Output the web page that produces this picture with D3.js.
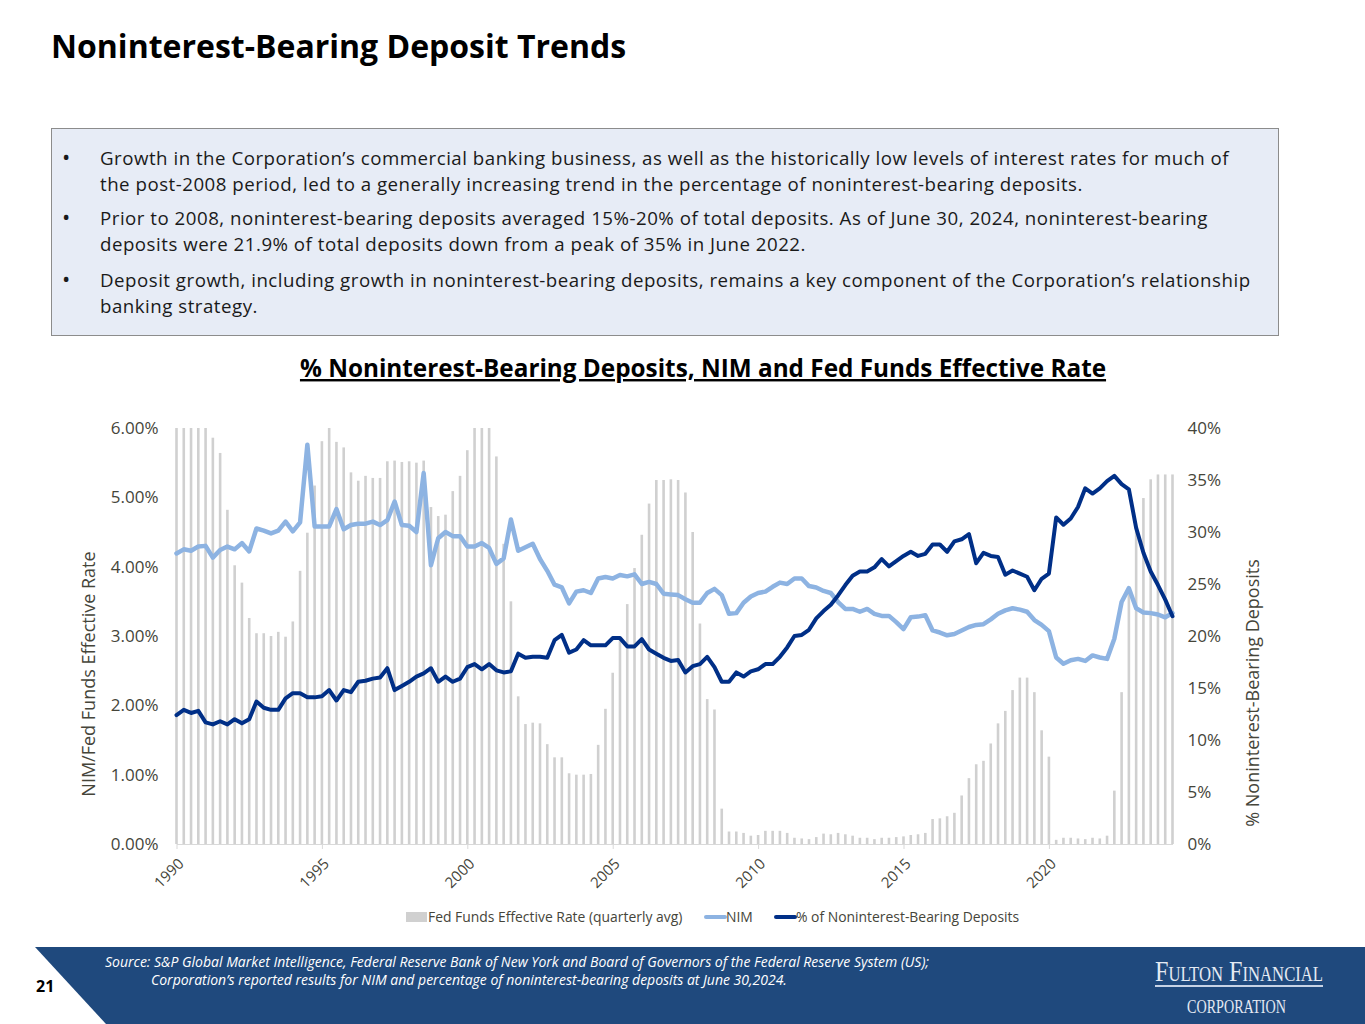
<!DOCTYPE html>
<html lang="en">
<head>
<meta charset="UTF-8">
<script src="https://d3js.org/d3.v7.min.js"></script>
<title>Noninterest-Bearing Deposit Trends</title>
<style>
    body{
        margin: 0;
        background-color: white;
        font-family: "Open Sans", sans-serif;
    }
    svg{
        display: block;
    }
    .axis text{
        font-family: "Open Sans", sans-serif;
        font-size: 17px;
        fill: #45453a;
    }
    .axis.x-axis text{
        font-size: 15px;
    }
    .axis-title{
        font-size: 18px;
        fill: #45453a;
    }
    .legend text{
        font-size: 13.9px;
        fill: #45453a;
    }
    .bullet{
        font-size: 18.7px;
        letter-spacing: 0.5px;
        fill: #1a1a1a;
    }
    .source{
        font-size: 14px;
        font-style: italic;
        fill: white;
    }
</style>
</head>
<body>
<svg id="slide" width="1365" height="1024"></svg>
<script>
// quarterly data, 1990 Q1 .. 2024 Q2
const startYear = 1990;

// Fed Funds effective rate, quarterly average (%), axis is capped at 6%
const fedFunds = [
    6.00, 6.00, 6.00, 6.00,   6.00, 5.86, 5.64, 4.82,   4.02, 3.77, 3.26, 3.04,
    3.04, 3.00, 3.06, 2.99,   3.21, 3.94, 4.49, 5.17,   5.81, 6.00, 5.80, 5.72,
    5.36, 5.24, 5.31, 5.28,   5.28, 5.52, 5.53, 5.51,   5.52, 5.50, 5.53, 4.86,
    4.73, 4.75, 5.09, 5.31,   5.68, 6.00, 6.00, 6.00,   5.59, 4.33, 3.50, 2.13,
    1.73, 1.75, 1.74, 1.44,   1.25, 1.25, 1.02, 1.00,   1.00, 1.01, 1.43, 1.95,
    2.47, 2.94, 3.46, 3.98,   4.46, 4.91, 5.25, 5.25,   5.26, 5.25, 5.07, 4.50,
    3.18, 2.09, 1.94, 0.51,   0.18, 0.18, 0.16, 0.12,   0.13, 0.19, 0.19, 0.19,
    0.16, 0.09, 0.08, 0.07,   0.10, 0.15, 0.14, 0.16,   0.14, 0.12, 0.09, 0.09,
    0.07, 0.09, 0.09, 0.10,   0.11, 0.13, 0.14, 0.16,   0.36, 0.37, 0.40, 0.45,
    0.70, 0.95, 1.15, 1.20,   1.45, 1.74, 1.92, 2.22,   2.40, 2.40, 2.19, 1.64,
    1.26, 0.06, 0.09, 0.09,   0.08, 0.07, 0.09, 0.08,   0.12, 0.77, 2.19, 3.65,
    4.52, 4.99, 5.26, 5.33,   5.33, 5.33
];

// net interest margin (%)
const nim = [
    4.19, 4.25, 4.23, 4.29,   4.30, 4.13, 4.24, 4.29,   4.25, 4.34, 4.22, 4.55,
    4.52, 4.48, 4.52, 4.65,   4.51, 4.64, 5.76, 4.58,   4.58, 4.58, 4.83, 4.54,
    4.60, 4.62, 4.62, 4.65,   4.60, 4.67, 4.94, 4.60,   4.59, 4.50, 5.35, 4.02,
    4.41, 4.50, 4.44, 4.44,   4.29, 4.29, 4.34, 4.27,   4.04, 4.12, 4.68, 4.23,
    4.28, 4.33, 4.11, 3.94,   3.74, 3.70, 3.47, 3.64,   3.66, 3.62, 3.83, 3.85,
    3.83, 3.88, 3.86, 3.89,   3.75, 3.78, 3.75, 3.61,   3.60, 3.59, 3.53, 3.48,
    3.48, 3.62, 3.68, 3.59,   3.32, 3.33, 3.48, 3.57,   3.62, 3.64, 3.71, 3.77,
    3.75, 3.83, 3.83, 3.72,   3.70, 3.65, 3.62, 3.49,   3.39, 3.39, 3.35, 3.39,
    3.32, 3.29, 3.29, 3.20,   3.10, 3.27, 3.28, 3.30,   3.08, 3.05, 3.01, 3.03,
    3.08, 3.13, 3.16, 3.17,   3.24, 3.32, 3.37, 3.40,   3.38, 3.35, 3.23, 3.16,
    3.07, 2.69, 2.60, 2.65,   2.67, 2.64, 2.72, 2.69,   2.67, 2.96, 3.49, 3.69,
    3.40, 3.34, 3.33, 3.31,   3.27, 3.33
];

// noninterest-bearing deposits, % of total deposits
const nibPct = [
    12.4, 12.9, 12.6, 12.8,   11.7, 11.5, 11.8, 11.5,   12.0, 11.6, 12.0, 13.7,
    13.1, 12.9, 12.9, 14.0,   14.5, 14.5, 14.1, 14.1,   14.2, 14.8, 13.8, 14.8,
    14.6, 15.6, 15.7, 15.9,   16.0, 16.9, 14.8, 15.2,   15.6, 16.1, 16.4, 16.9,
    15.6, 16.1, 15.6, 15.9,   17.0, 17.3, 16.8, 17.3,   16.7, 16.5, 16.6, 18.3,
    17.9, 18.0, 18.0, 17.9,   19.6, 20.1, 18.4, 18.7,   19.6, 19.1, 19.1, 19.1,
    19.8, 19.8, 19.0, 19.0,   19.7, 18.7, 18.3, 17.9,   17.6, 17.7, 16.5, 17.1,
    17.3, 18.0, 17.0, 15.6,   15.6, 16.5, 16.1, 16.6,   16.8, 17.3, 17.3, 18.0,
    18.9, 20.0, 20.1, 20.6,   21.7, 22.4, 23.0, 23.9,   24.9, 25.8, 26.2, 26.2,
    26.6, 27.4, 26.7, 27.2,   27.7, 28.1, 27.7, 27.9,   28.8, 28.8, 28.1, 29.1,
    29.3, 29.8, 27.0, 28.0,   27.7, 27.6, 25.9, 26.3,   26.0, 25.7, 24.4, 25.5,
    26.0, 31.4, 30.7, 31.3,   32.4, 34.2, 33.7, 34.2,   34.9, 35.4, 34.6, 34.1,
    30.4, 28.0, 26.2, 24.9,   23.5, 21.9
];

const xTickYears = [1990, 1995, 2000, 2005, 2010, 2015, 2020];
const leftTicks = [0, 1, 2, 3, 4, 5, 6];
const rightTicks = [0, 5, 10, 15, 20, 25, 30, 35, 40];

const seriesNames = ["Fed Funds Effective Rate (quarterly avg)", "NIM", "% of Noninterest-Bearing Deposits"];

const bullets = [
    ["Growth in the Corporation\u2019s commercial banking business, as well as the historically low levels of interest rates for much of",
     "the post-2008 period, led to a generally increasing trend in the percentage of noninterest-bearing deposits."],
    ["Prior to 2008, noninterest-bearing deposits averaged 15%-20% of total deposits. As of June 30, 2024, noninterest-bearing",
     "deposits were 21.9% of total deposits down from a peak of 35% in June 2022."],
    ["Deposit growth, including growth in noninterest-bearing deposits, remains a key component of the Corporation\u2019s relationship",
     "banking strategy."]
];

const sourceLines = [
    "Source: S&P Global Market Intelligence, Federal Reserve Bank of New York and Board of Governors of the Federal Reserve System (US);",
    "Corporation\u2019s reported results for NIM and percentage of noninterest-bearing deposits at June 30,2024."
];

const colors = { bar: "#d0d0d0", nim: "#8db3e2", nib: "#002f87", footer: "#1f497d" };

function drawSlide(){
    const svg = d3.select("#slide");

    // page title
    svg.append("text")
       .attr("x", 51).attr("y", 58)
       .style("font-size", "32px").style("font-weight", "bold")
       .text("Noninterest-Bearing Deposit Trends");

    // bullet box
    svg.append("rect")
       .attr("x", 51.5).attr("y", 128.5)
       .attr("width", 1227).attr("height", 207)
       .attr("fill", "#e7ecf6").attr("stroke", "#8c8c8c");

    const bulletTops = [165, 225, 287];
    const lineGap = 25.5;
    bullets.forEach((lines, b) => {
        svg.append("text")
           .attr("x", 62).attr("y", bulletTops[b])
           .style("font-size", "22px").attr("fill", "#1a1a1a")
           .text("\u2022");
        lines.forEach((line, k) => {
            svg.append("text").attr("class", "bullet")
               .attr("x", 100).attr("y", bulletTops[b] + k * lineGap)
               .text(line);
        });
    });

    // chart title
    svg.append("text")
       .attr("x", 703).attr("y", 377)
       .attr("text-anchor", "middle")
       .style("font-size", "24.3px").style("font-weight", "bold")
       .style("text-decoration", "underline")
       .text("% Noninterest-Bearing Deposits, NIM and Fed Funds Effective Rate");

    // chart
    const left = 176.5, right = 1172.5, top = 428, bottom = 844;
    const quarters = fedFunds.map((d, i) => startYear + i / 4);

    const x = d3.scaleLinear()
                .domain([startYear, quarters[quarters.length - 1]])
                .range([left, right]);
    const yLeft = d3.scaleLinear().domain([0, 6]).range([bottom, top]);
    const yRight = d3.scaleLinear().domain([0, 40]).range([bottom, top]);

    const chart = svg.append("g");

    chart.selectAll("rect.bar")
         .data(fedFunds)
         .enter()
         .append("rect")
         .attr("class", "bar")
         .attr("x", (d, i) => x(quarters[i]) - 1.3)
         .attr("width", 2.6)
         .attr("y", d => yLeft(d))
         .attr("height", d => bottom - yLeft(d))
         .attr("fill", colors.bar);

    // x axis
    const xAxis = d3.axisBottom(x)
                    .tickValues(xTickYears)
                    .tickFormat(d3.format("d"))
                    .tickSizeInner(5)
                    .tickSizeOuter(0);
    const gx = chart.append("g")
                    .attr("class", "axis x-axis")
                    .attr("transform", "translate(0," + bottom + ")")
                    .call(xAxis);
    gx.select(".domain").attr("stroke", "#d9d9d9");
    gx.selectAll(".tick line").attr("stroke", "#d9d9d9");
    gx.selectAll(".tick text")
      .attr("x", 0).attr("y", 0).attr("dy", "0.35em")
      .attr("text-anchor", "end")
      .attr("transform", "translate(4,17) rotate(-45)");

    const lineFor = scale => d3.line()
                               .x((d, i) => x(quarters[i]))
                               .y(d => scale(d));

    chart.append("path")
         .datum(nim)
         .attr("d", lineFor(yLeft))
         .attr("fill", "none")
         .attr("stroke", colors.nim)
         .attr("stroke-width", 4.5)
         .attr("stroke-linejoin", "round")
         .attr("stroke-linecap", "round");

    chart.append("path")
         .datum(nibPct)
         .attr("d", lineFor(yRight))
         .attr("fill", "none")
         .attr("stroke", colors.nib)
         .attr("stroke-width", 4)
         .attr("stroke-linejoin", "round")
         .attr("stroke-linecap", "round");

    // y axes
    const gl = chart.append("g")
                    .attr("class", "axis")
                    .attr("transform", "translate(" + left + ",0)")
                    .call(d3.axisLeft(yLeft).tickValues(leftTicks)
                            .tickFormat(d => d.toFixed(2) + "%")
                            .tickSize(0).tickPadding(18));
    gl.select(".domain").remove();

    const gr = chart.append("g")
                    .attr("class", "axis")
                    .attr("transform", "translate(" + right + ",0)")
                    .call(d3.axisRight(yRight).tickValues(rightTicks)
                            .tickFormat(d => d + "%")
                            .tickSize(0).tickPadding(15));
    gr.select(".domain").remove();

    svg.append("text")
       .attr("class", "axis-title")
       .attr("transform", "translate(89,674) rotate(-90)")
       .attr("text-anchor", "middle").attr("dy", "0.35em")
       .text("NIM/Fed Funds Effective Rate");

    svg.append("text")
       .attr("class", "axis-title")
       .attr("transform", "translate(1253,693) rotate(-90)")
       .attr("text-anchor", "middle").attr("dy", "0.35em")
       .text("% Noninterest-Bearing Deposits");

    // legend
    const legend = svg.append("g").attr("class", "legend");
    const legendY = 917;
    legend.append("rect")
          .attr("x", 406).attr("y", legendY - 5)
          .attr("width", 21).attr("height", 10)
          .attr("fill", colors.bar);
    legend.append("text").attr("x", 428).attr("y", legendY).attr("dy", "0.35em").text(seriesNames[0]);

    legend.append("line")
          .attr("x1", 706).attr("x2", 725).attr("y1", legendY).attr("y2", legendY)
          .attr("stroke", colors.nim).attr("stroke-width", 4).attr("stroke-linecap", "round");
    legend.append("text").attr("x", 726).attr("y", legendY).attr("dy", "0.35em").text(seriesNames[1]);

    legend.append("line")
          .attr("x1", 776).attr("x2", 795).attr("y1", legendY).attr("y2", legendY)
          .attr("stroke", colors.nib).attr("stroke-width", 4).attr("stroke-linecap", "round");
    legend.append("text").attr("x", 796).attr("y", legendY).attr("dy", "0.35em").text(seriesNames[2]);

    // footer band
    svg.append("polygon")
       .attr("points", "35,947 1365,947 1365,1024 106,1024")
       .attr("fill", colors.footer);

    svg.append("text")
       .attr("x", 36).attr("y", 992)
       .style("font-size", "16px").style("font-weight", "bold")
       .text("21");

    svg.append("text").attr("class", "source")
       .attr("x", 105).attr("y", 967).text(sourceLines[0]);
    svg.append("text").attr("class", "source")
       .attr("x", 151).attr("y", 985).text(sourceLines[1]);

    // logo
    svg.append("text")
       .attr("x", 1155).attr("y", 981)
       .attr("textLength", 168).attr("lengthAdjust", "spacingAndGlyphs")
       .style("font-family", "'Liberation Serif', serif")
       .style("font-size", "29px")
       .style("font-variant", "small-caps")
       .attr("fill", "#e4eaf3")
       .text("Fulton Financial");
    svg.append("line")
       .attr("x1", 1155).attr("x2", 1323).attr("y1", 986).attr("y2", 986)
       .attr("stroke", "#c7d3e6").attr("stroke-width", 2);
    svg.append("text")
       .attr("x", 1187).attr("y", 1013)
       .attr("textLength", 99).attr("lengthAdjust", "spacingAndGlyphs")
       .style("font-family", "'Liberation Serif', serif")
       .style("font-size", "18px")
       .attr("fill", "#e4eaf3")
       .text("CORPORATION");
}

drawSlide();
</script>
</body>
</html>
